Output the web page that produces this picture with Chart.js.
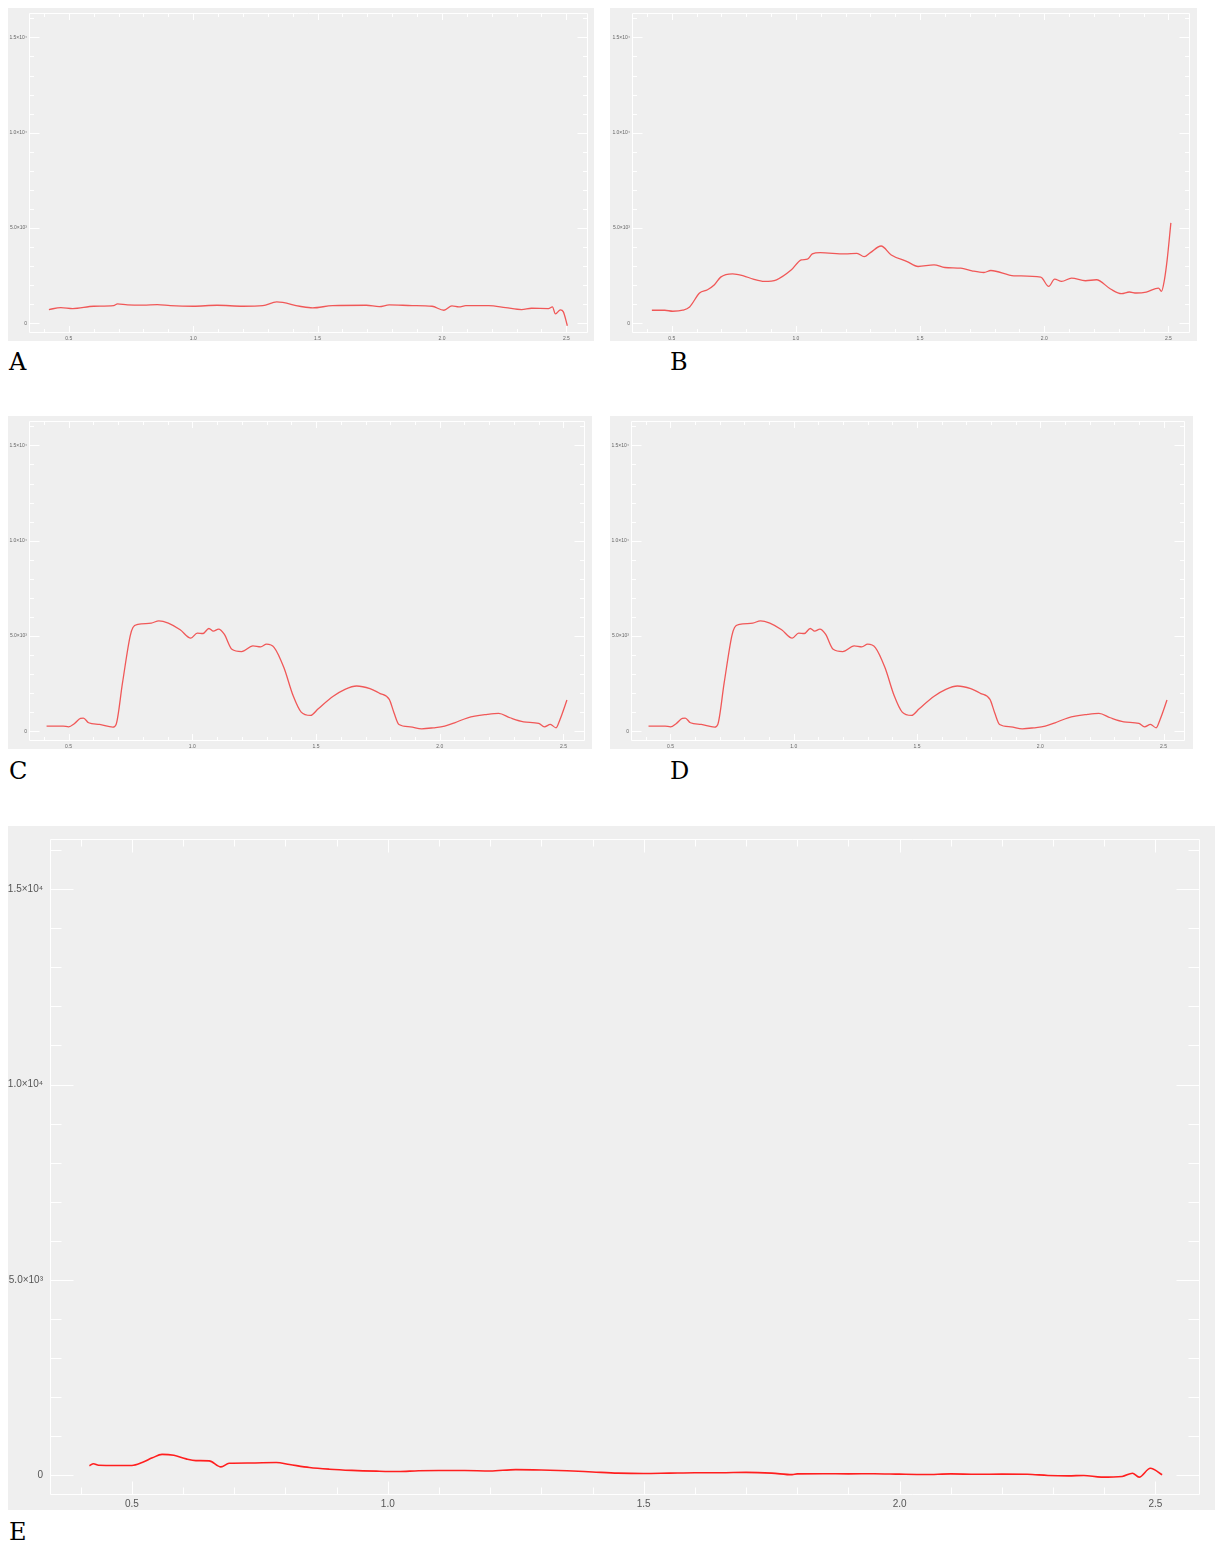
<!DOCTYPE html>
<html>
<head>
<meta charset="utf-8">
<script src="https://cdn.jsdelivr.net/npm/chart.js@4.4.1/dist/chart.umd.min.js"></script>
<style>
  html, body { margin: 0; padding: 0; background: #ffffff; }
  body { position: relative; width: 1215px; height: 1544px; overflow: hidden; }
  .panel { position: absolute; background: #efefef; }
  .panel canvas { display: block; }
  .tag { position: absolute; font-family: "DejaVu Serif", "Liberation Serif", serif; font-size: 24px; line-height: 1; color: #000; }
</style>
</head>
<body>
<script>
// ---- axis ticks ----
const xTickValues = [0.5, 1.0, 1.5, 2.0, 2.5];
const xTickLabels = ['0.5', '1.0', '1.5', '2.0', '2.5'];
const yTickValues = [0, 5000, 10000, 15000];
const yTickLabels = ['0', '5.0×10³', '1.0×10⁴', '1.5×10⁴'];
const panelNames = ['A', 'B', 'C', 'D', 'E'];

// ---- spectra (wavelength vs intensity) ----
const xA = [0.42, 0.468, 0.516, 0.6, 0.68, 0.696, 0.736, 0.8, 0.856, 0.908,
            1.0, 1.096, 1.2, 1.28, 1.336, 1.428, 1.48, 1.56, 1.696, 1.748,
            1.788, 1.88, 1.96, 2.008, 2.04, 2.068, 2.096, 2.188, 2.256, 2.32,
            2.36, 2.428, 2.444, 2.456, 2.476, 2.488, 2.504];
const yA = [729, 833, 781, 903, 937, 1024, 972, 960, 990, 937,
            903, 955, 903, 937, 1128, 903, 816, 937, 955, 885,
            972, 940, 903, 694, 920, 868, 937, 937, 833, 729,
            797, 781, 868, 503, 711, 607, -120];

const xB = [0.42, 0.472, 0.504, 0.544, 0.572, 0.612, 0.644, 0.672, 0.697, 0.745,
            0.789, 0.828, 0.873, 0.922, 0.982, 1.022, 1.046, 1.066, 1.098, 1.198,
            1.246, 1.275, 1.3, 1.343, 1.384, 1.448, 1.492, 1.556, 1.6, 1.664,
            1.709, 1.757, 1.785, 1.878, 1.986, 2.018, 2.042, 2.07, 2.11, 2.166,
            2.21, 2.267, 2.311, 2.343, 2.371, 2.411, 2.46, 2.472, 2.484, 2.495, 2.51];
const yB = [693, 693, 641, 693, 868, 1597, 1771, 2031, 2430, 2604,
            2500, 2326, 2205, 2291, 2812, 3333, 3368, 3645, 3715, 3645,
            3680, 3506, 3715, 4062, 3593, 3246, 2986, 3072, 2934, 2899,
            2760, 2673, 2777, 2500, 2430, 1944, 2326, 2205, 2378, 2240,
            2291, 1806, 1562, 1649, 1597, 1649, 1858, 1684, 2291, 3333, 5277];

const xC = [0.411, 0.478, 0.5, 0.524, 0.548, 0.56, 0.581, 0.625, 0.679, 0.692,
            0.718, 0.749, 0.76, 0.78, 0.834, 0.865, 0.903, 0.951, 0.994, 1.02,
            1.043, 1.067, 1.085, 1.106, 1.129, 1.16, 1.199, 1.245, 1.276, 1.3,
            1.331, 1.37, 1.408, 1.44, 1.478, 1.509, 1.571, 1.617, 1.664, 1.718,
            1.757, 1.796, 1.815, 1.835, 1.881, 1.927, 1.974, 2.02, 2.06, 2.113,
            2.192, 2.238, 2.284, 2.339, 2.4, 2.423, 2.447, 2.47, 2.486, 2.514];
const yC = [279, 279, 245, 421, 684, 701, 456, 368, 228, 368,
            2560, 5014, 5450, 5610, 5680, 5803, 5680, 5330, 4892, 5155,
            5137, 5400, 5260, 5365, 5102, 4313, 4190, 4487, 4434, 4576,
            4400, 3350, 1856, 1015, 842, 1193, 1856, 2209, 2384, 2244,
            1999, 1683, 982, 368, 245, 140, 193, 279, 456, 719,
            894, 947, 719, 508, 421, 245, 368, 193, 631, 1648];

const xD = xC.slice();
const yD = yC.slice();

const xE = [0.417, 0.425, 0.435, 0.47, 0.5, 0.52, 0.54, 0.559, 0.582, 0.606,
            0.625, 0.651, 0.674, 0.69, 0.73, 0.782, 0.808, 0.847, 0.886, 0.93,
            0.978, 1.02, 1.06, 1.1, 1.15, 1.2, 1.25, 1.3, 1.35, 1.4,
            1.45, 1.5, 1.55, 1.6, 1.65, 1.7, 1.75, 1.79, 1.8, 1.85,
            1.9, 1.95, 2.0, 2.05, 2.1, 2.15, 2.2, 2.25, 2.29, 2.33,
            2.36, 2.394, 2.435, 2.455, 2.468, 2.49, 2.513];
const yE = [250, 300, 260, 255, 255, 330, 450, 540, 515, 424,
            380, 373, 220, 312, 320, 330, 280, 203, 160, 130,
            110, 100, 120, 125, 125, 115, 150, 140, 120, 90,
            60, 50, 60, 70, 70, 80, 60, 20, 40, 45,
            40, 45, 33, 25, 40, 30, 35, 30, 0, -10,
            0, -43, -25, 58, -43, 185, 17];

const seriesX = [xA, xB, xC, xD, xE];
const seriesY = [yA, yB, yC, yD, yE];

// ---- axis ranges ----
const X_MIN = 0.34, X_MAX = 2.587;
const Y_MIN = -500, Y_MAX = 16280;
const X_MINOR = 0.1, Y_MINOR = 1000;

// ---- panel geometry ----
const small = { font: 5, yPad: 2, xPad: 2.5, major: 10, minor: 4.5, xMajor: 6.5, xMinor: 3.5,
                line: '#f05858', lw: 1.3, text: '#666' };
const large = { font: 10, yPad: 7, xPad: 3, major: 23, minor: 11, xMajor: 13, xMinor: 7,
                line: '#ff1f1f', lw: 1.6, text: '#555' };
const panels = [
  { left: 8,   top: 8,   w: 586,  h: 333, yW: 21, xH: 8,  padTop: 4, padRight: 6,  st: small, tag: [9, 350] },
  { left: 610, top: 8,   w: 587,  h: 333, yW: 22, xH: 8,  padTop: 4, padRight: 7,  st: small, tag: [670, 350] },
  { left: 8,   top: 416, w: 584,  h: 333, yW: 21, xH: 8,  padTop: 4, padRight: 7,  st: small, tag: [9, 759] },
  { left: 610, top: 416, w: 583,  h: 333, yW: 21, xH: 8,  padTop: 4, padRight: 8,  st: small, tag: [670, 759] },
  { left: 8,   top: 826, w: 1207, h: 684, yW: 42, xH: 15, padTop: 7, padRight: 15, st: large, tag: [9, 1520] }
];

// white frame with inward ticks on all four sides
const frameTicks = {
  id: 'frameTicks',
  beforeDatasetsDraw(chart, args, o) {
    const { ctx, chartArea: a } = chart;
    const xs = chart.scales.x, ys = chart.scales.y;
    const L = Math.round(a.left) + 0.5, R = Math.round(a.right) - 0.5;
    const T = Math.round(a.top) + 0.5, B = Math.round(a.bottom) - 0.5;
    ctx.save();
    ctx.strokeStyle = '#ffffff';
    ctx.lineWidth = 1;
    ctx.beginPath();
    ctx.moveTo(L, T); ctx.lineTo(R, T); ctx.lineTo(R, B); ctx.lineTo(L, B); ctx.closePath();
    // vertical ticks
    const yStart = Math.ceil(ys.min / Y_MINOR), yEnd = Math.floor(ys.max / Y_MINOR);
    for (let k = yStart; k <= yEnd; k++) {
      const v = k * Y_MINOR;
      const p = Math.round(ys.getPixelForValue(v)) + 0.5;
      const len = (k % 5 === 0) ? o.major : o.minor;
      ctx.moveTo(L, p); ctx.lineTo(L + len, p);
      ctx.moveTo(R, p); ctx.lineTo(R - len, p);
    }
    // horizontal ticks
    const xStart = Math.ceil(xs.min / X_MINOR - 1e-9), xEnd = Math.floor(xs.max / X_MINOR + 1e-9);
    for (let k = xStart; k <= xEnd; k++) {
      const v = k * X_MINOR;
      const p = Math.round(xs.getPixelForValue(v)) + 0.5;
      const len = (k % 5 === 0) ? o.xMajor : o.xMinor;
      ctx.moveTo(p, B); ctx.lineTo(p, B - len);
      ctx.moveTo(p, T); ctx.lineTo(p, T + len);
    }
    ctx.stroke();
    ctx.restore();
  }
};

panels.forEach((g, i) => {
  const div = document.createElement('div');
  div.className = 'panel';
  Object.assign(div.style, { left: g.left + 'px', top: g.top + 'px', width: g.w + 'px', height: g.h + 'px' });
  const cv = document.createElement('canvas');
  cv.width = g.w; cv.height = g.h;
  div.appendChild(cv);
  document.body.appendChild(div);

  const tag = document.createElement('div');
  tag.className = 'tag';
  tag.textContent = panelNames[i];
  tag.style.left = g.tag[0] + 'px';
  tag.style.top = g.tag[1] + 'px';
  document.body.appendChild(tag);

  const st = g.st;
  const tickFont = { family: '"Liberation Sans", Arial, sans-serif', size: st.font };
  const xs = seriesX[i], ysr = seriesY[i];

  new Chart(cv, {
    type: 'line',
    data: {
      datasets: [{
        data: xs.map((x, j) => ({ x: x, y: ysr[j] })),
        borderColor: st.line,
        borderWidth: st.lw,
        pointRadius: 0,
        fill: false,
        cubicInterpolationMode: 'monotone'
      }]
    },
    plugins: [frameTicks],
    options: {
      responsive: false,
      animation: false,
      events: [],
      layout: { padding: { top: g.padTop, right: g.padRight, left: 0, bottom: 0 } },
      plugins: {
        legend: { display: false },
        tooltip: { enabled: false },
        frameTicks: { major: st.major, minor: st.minor, xMajor: st.xMajor, xMinor: st.xMinor }
      },
      scales: {
        x: {
          type: 'linear', min: X_MIN, max: X_MAX,
          grid: { display: false, drawTicks: false }, border: { display: false },
          afterBuildTicks: s => { s.ticks = xTickValues.map(v => ({ value: v })); },
          afterFit: s => { s.height = g.xH; },
          ticks: {
            autoSkip: false, maxRotation: 0, padding: st.xPad, color: st.text, font: tickFont,
            callback: v => xTickLabels[xTickValues.indexOf(v)]
          }
        },
        y: {
          type: 'linear', min: Y_MIN, max: Y_MAX,
          grid: { display: false, drawTicks: false }, border: { display: false },
          afterBuildTicks: s => { s.ticks = yTickValues.map(v => ({ value: v })); },
          afterFit: s => { s.width = g.yW; },
          ticks: {
            autoSkip: false, padding: st.yPad, color: st.text, font: tickFont,
            callback: v => yTickLabels[yTickValues.indexOf(v)]
          }
        }
      }
    }
  });
});
</script>
</body>
</html>
